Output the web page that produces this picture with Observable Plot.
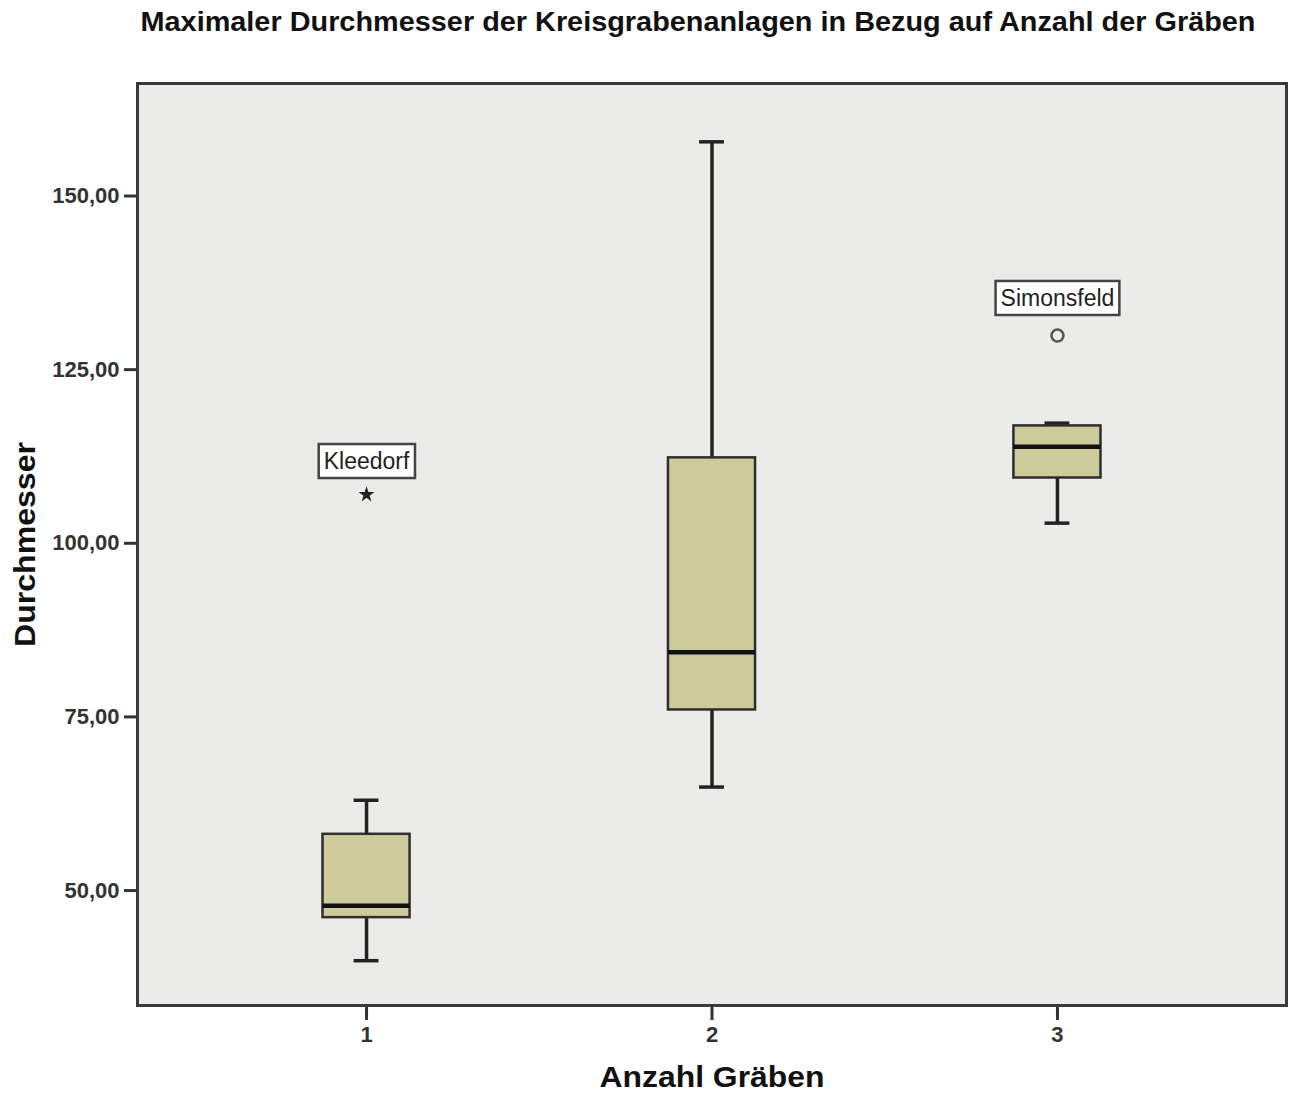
<!DOCTYPE html>
<html>
<head>
<meta charset="utf-8">
<script src="https://cdn.jsdelivr.net/npm/d3@7"></script>
<script src="https://cdn.jsdelivr.net/npm/@observablehq/plot@0.6"></script>
<style>
  body { margin: 0; background: #ffffff; }
  #chart svg { display: block; }
</style>
</head>
<body>
<div id="chart"></div>
<script>
// ---- Data ----
const groups = [1, 2, 3];
const whiskerLow = [39.9, 64.9, 102.9];
const q1 = [46.1, 76.0, 109.4];
const median = [47.8, 84.3, 113.9];
const q3 = [58.1, 112.3, 116.9];
const whiskerHigh = [63.0, 157.8, 117.3];

const outlierGroup = [1, 3];
const outlierValue = [107.0, 129.9];
const outlierName = ["Kleedorf", "Simonsfeld"];
const outlierType = ["extreme", "outlier"];

const yTicks = [50, 75, 100, 125, 150];
const xTicks = [1, 2, 3];

const title = "Maximaler Durchmesser der Kreisgrabenanlagen in Bezug auf Anzahl der Gräben";
const yLabel = "Durchmesser";
const xLabel = "Anzahl Gräben";

// ---- Derived tables ----
const boxes = groups.map((g, i) => ({
  g, lo: whiskerLow[i], q1: q1[i], med: median[i], q3: q3[i], hi: whiskerHigh[i]
}));
const outliers = outlierGroup.map((g, i) => ({
  g, v: outlierValue[i], name: outlierName[i], type: outlierType[i]
}));
const extremes = outliers.filter(d => d.type === "extreme");
const mild = outliers.filter(d => d.type === "outlier");

const boxHalf = 0.126;
const capHalf = 0.036;
const font = "'Liberation Sans', Arial, sans-serif";
const narrow = "'Liberation Sans Narrow', 'Arial Narrow', 'Liberation Sans', Arial, sans-serif";
const ink = "#222222";

const chart = Plot.plot({
  width: 1290,
  height: 1093,
  marginLeft: 137,
  marginRight: 4,
  marginTop: 83,
  marginBottom: 88,
  style: { fontFamily: font, background: "#ffffff", overflow: "visible" },
  x: { type: "linear", domain: [0.337, 3.663] },
  y: { domain: [33.45, 166.2] },
  marks: [
    Plot.frame({ fill: "#ebebea", stroke: "none" }),
    // whiskers
    Plot.ruleX(boxes, { x: "g", y1: "q3", y2: "hi", stroke: ink, strokeWidth: 3.5 }),
    Plot.ruleX(boxes, { x: "g", y1: "lo", y2: "q1", stroke: ink, strokeWidth: 3.5 }),
    // caps
    Plot.ruleY(boxes, { x1: d => d.g - capHalf, x2: d => d.g + capHalf, y: "hi", stroke: ink, strokeWidth: 3.5 }),
    Plot.ruleY(boxes, { x1: d => d.g - capHalf, x2: d => d.g + capHalf, y: "lo", stroke: ink, strokeWidth: 3.5 }),
    // boxes
    Plot.rect(boxes, {
      x1: d => d.g - boxHalf, x2: d => d.g + boxHalf, y1: "q1", y2: "q3",
      fill: "#cdca9c", stroke: "#2e2e2e", strokeWidth: 2.5
    }),
    // medians
    Plot.ruleY(boxes, { x1: d => d.g - boxHalf, x2: d => d.g + boxHalf, y: "med", stroke: "#111", strokeWidth: 4.5 }),
    // outliers
    Plot.dot(extremes, { x: "g", y: "v", symbol: "star", r: 5, fill: "#222", stroke: "none" }),
    Plot.dot(mild, { x: "g", y: "v", symbol: "circle", r: 6, fill: "none", stroke: "#555", strokeWidth: 2.5 }),
    // outlier labels
    Plot.text(extremes, {
      x: "g", y: "v", text: "name", dy: -33,
      fontSize: 23, fontFamily: narrow, fill: "#222", lineAnchor: "middle", ariaDescription: "outlier-label"
    }),
    Plot.text(mild, {
      x: "g", y: "v", text: "name", dy: -37,
      fontSize: 23, fontFamily: narrow, fill: "#222", lineAnchor: "middle", ariaDescription: "outlier-label"
    }),
    // axes
    Plot.axisY({
      ticks: yTicks, tickFormat: d => d.toFixed(2).replace(".", ","),
      tickSize: 13, tickPadding: 5, label: null,
      fontSize: 22, fontWeight: "bold", fill: "#333", stroke: "#333", strokeWidth: 3
    }),
    Plot.axisX({
      ticks: xTicks, tickFormat: d => String(d),
      tickSize: 15, tickPadding: 6, label: null,
      fontSize: 22, fontWeight: "bold", fill: "#333", stroke: "#333", strokeWidth: 3
    }),
    Plot.frame({ fill: "none", stroke: "#3a3a3a", strokeWidth: 3 }),
    // titles
    Plot.text([title], {
      frameAnchor: "top", dy: -61, dx: -14, lineAnchor: "middle", textAnchor: "middle",
      fontSize: 27, fontWeight: "bold", fontFamily: narrow, fill: "#111", ariaDescription: "chart-title"
    }),
    Plot.text([yLabel], {
      frameAnchor: "left", dx: -112, rotate: -90, lineAnchor: "middle", textAnchor: "middle",
      fontSize: 30, fontWeight: "bold", fill: "#111", ariaDescription: "y-label"
    }),
    Plot.text([xLabel], {
      frameAnchor: "bottom", dy: 72, lineAnchor: "middle", textAnchor: "middle",
      fontSize: 30, fontWeight: "bold", fill: "#111", ariaDescription: "x-label"
    })
  ]
});

document.getElementById("chart").appendChild(chart);

// fit text widths to the reference
function fit(label, len) {
  chart.querySelectorAll(`g[aria-description="${label}"] text`).forEach(t => {
    t.setAttribute("textLength", len);
    t.setAttribute("lengthAdjust", "spacingAndGlyphs");
  });
}
fit("chart-title", 1115);
fit("y-label", 205);
fit("x-label", 225);

// framed boxes behind outlier labels
chart.querySelectorAll('g[aria-description="outlier-label"]').forEach(lg => {
  lg.querySelectorAll("text").forEach(t => {
    const b = t.getBBox();
    const tr = t.getAttribute("transform");
    const r = document.createElementNS("http://www.w3.org/2000/svg", "rect");
    const padX = 5, padY = 4;
    r.setAttribute("x", b.x - padX);
    r.setAttribute("y", b.y - padY);
    r.setAttribute("width", b.width + 2 * padX);
    r.setAttribute("height", b.height + 2 * padY);
    r.setAttribute("fill", "#ffffff");
    r.setAttribute("stroke", "#444");
    r.setAttribute("stroke-width", "2.5");
    if (tr) r.setAttribute("transform", tr);
    lg.insertBefore(r, t);
  });
});
</script>
</body>
</html>
